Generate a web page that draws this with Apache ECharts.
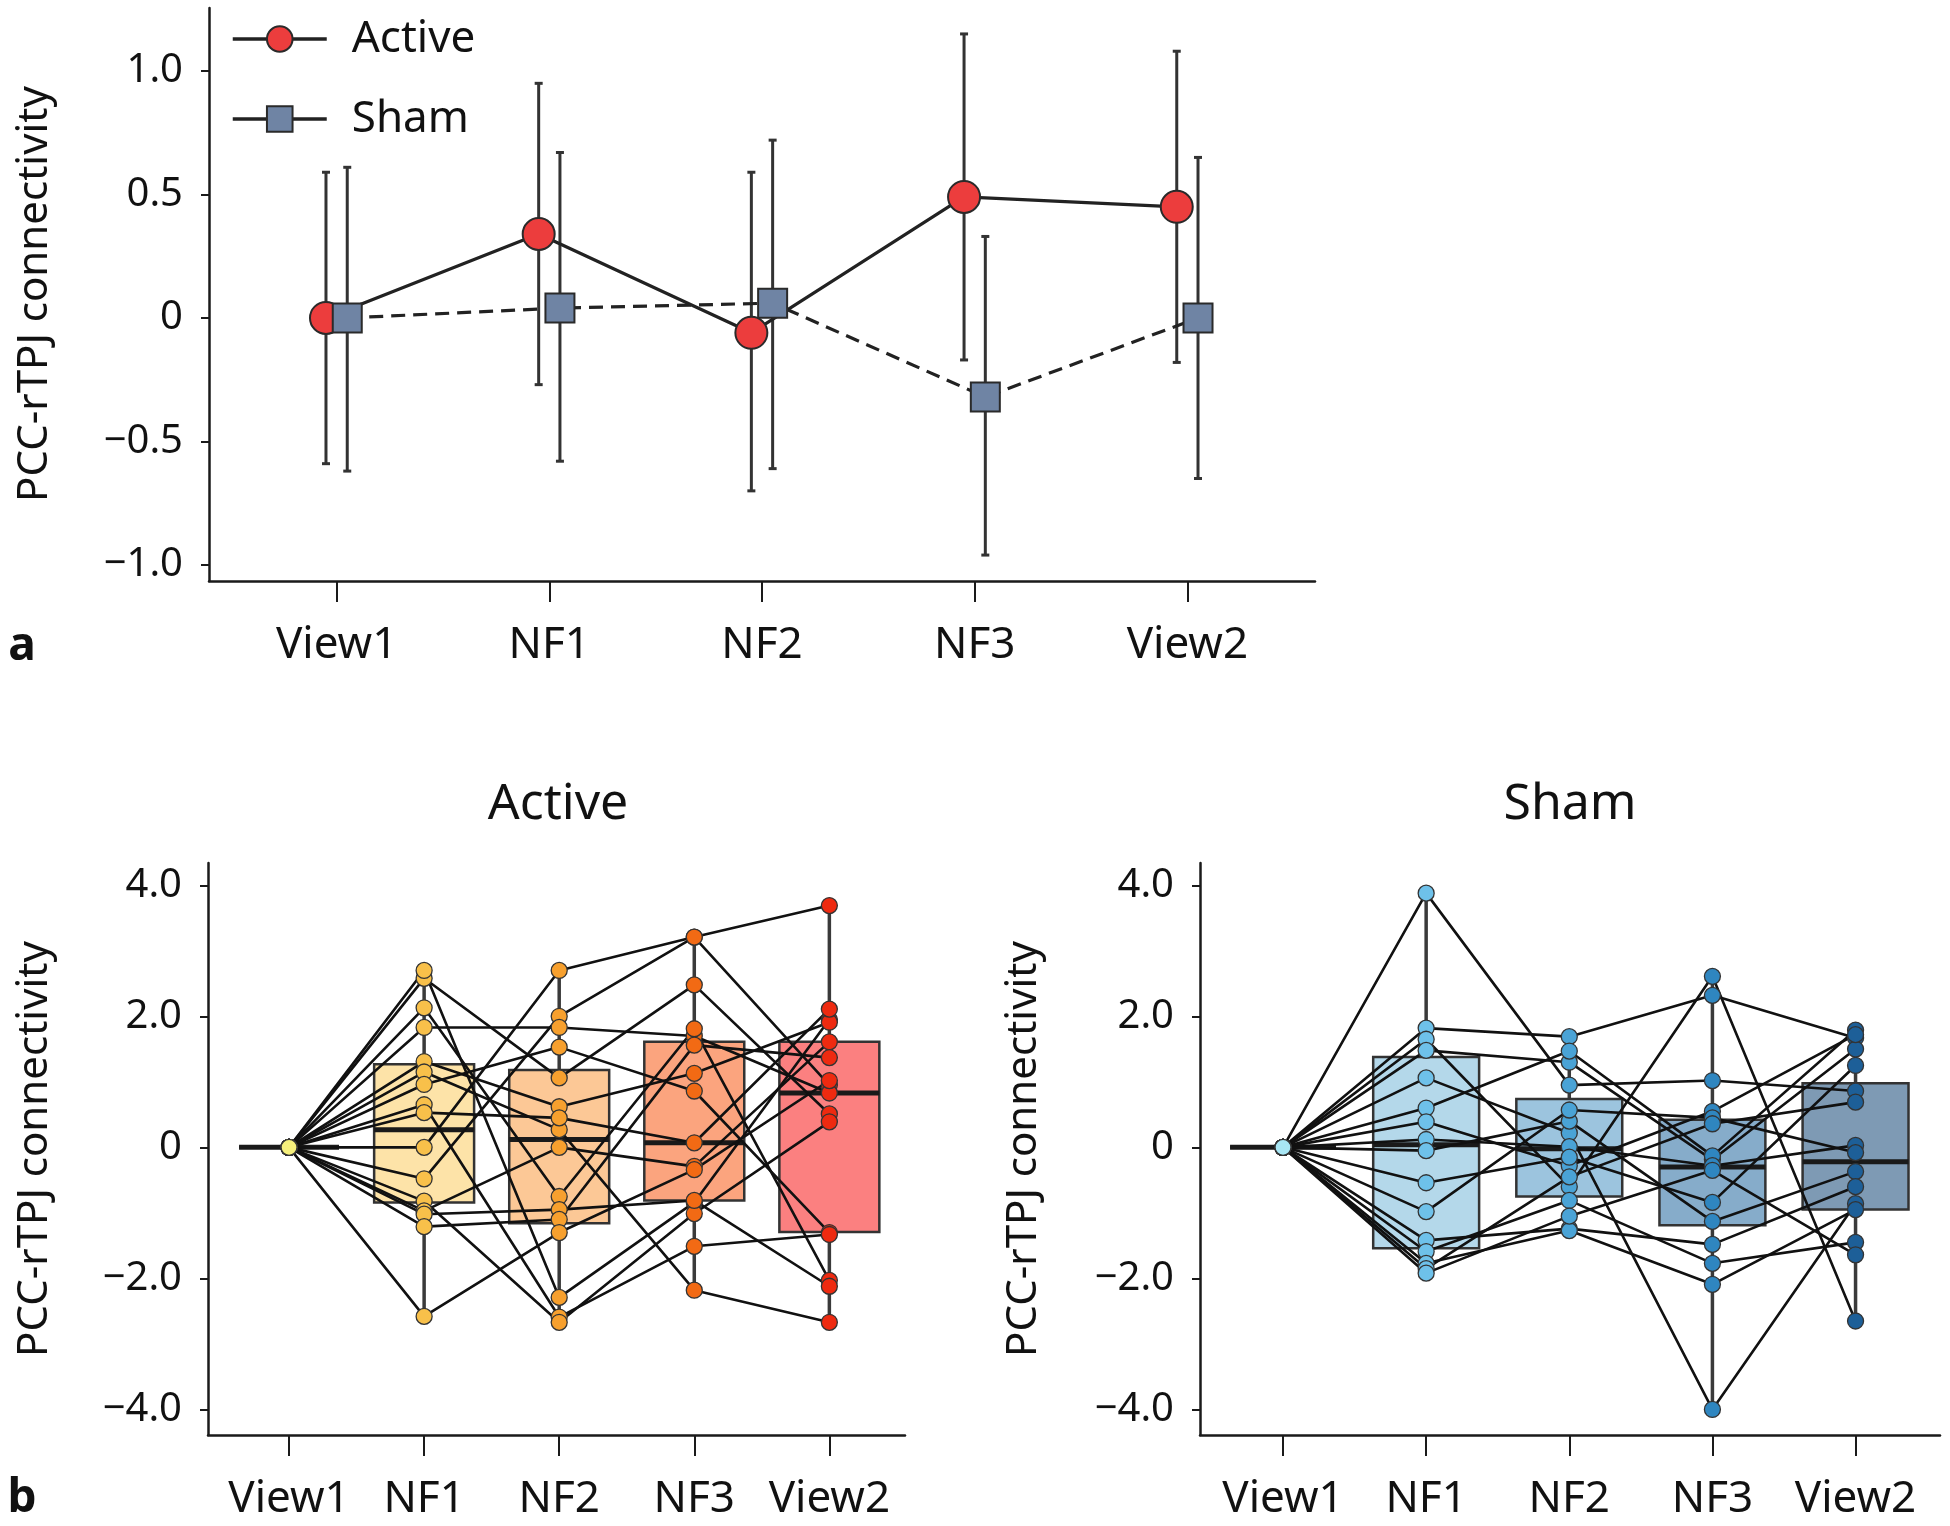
<!DOCTYPE html>
<html>
<head>
<meta charset="utf-8">
<script src="https://cdn.jsdelivr.net/npm/echarts@6/dist/echarts.min.js"></script>
<style>
* {margin: 0; padding: 0;}
#main {width: 1950px; height: 1526px; background: #fff;}
</style>
</head>
<body>
<div id="main"></div>
<script>
// 条件名
const CATS = ['View1', 'NF1', 'NF2', 'NF3', 'View2'];

// a: 组均值与误差线
const ACTIVE_MEAN = [0, 0.34, -0.06, 0.49, 0.45];
const ACTIVE_LOW = [-0.59, -0.27, -0.70, -0.17, -0.18];
const ACTIVE_HIGH = [0.59, 0.95, 0.59, 1.15, 1.08];
const SHAM_MEAN = [0, 0.04, 0.06, -0.32, 0];
const SHAM_LOW = [-0.62, -0.58, -0.61, -0.96, -0.65];
const SHAM_HIGH = [0.61, 0.67, 0.72, 0.33, 0.65];
const A_TICKS = [-1, -0.5, 0, 0.5, 1];

// b: 每个被试 [View1, NF1, NF2, NF3, View2]
const ACTIVE_SUBJECTS = [
    [0, 0.00, 2.70, 3.21, 3.69],
    [0, -0.48, 2.00, 3.21, 0.95],
    [0, 1.83, 1.83, 1.70, 0.83],
    [0, 2.58, 1.06, 2.48, 0.51],
    [0, 2.70, -2.29, -0.84, 1.95],
    [0, 2.13, -0.75, 1.81, -2.03],
    [0, 1.31, 0.62, 1.13, 1.91],
    [0, 1.15, 0.27, -2.18, -2.67],
    [0, 0.96, 1.53, 0.86, -1.30],
    [0, 0.65, -2.59, -1.51, -1.33],
    [0, 0.53, 0.45, 0.07, 2.11],
    [0, -0.82, -2.67, -1.01, 0.39],
    [0, -0.97, 0.00, -0.29, 1.61],
    [0, -1.02, -0.95, -0.81, -2.12],
    [0, -1.21, -1.10, 1.56, 1.37],
    [0, -2.58, -1.30, -0.34, 1.02]
];
const SHAM_SUBJECTS = [
    [0, 3.88, 0.95, 1.02, 0.86],
    [0, 1.82, 1.69, 2.32, 1.67],
    [0, 1.65, -0.60, 2.61, -2.65],
    [0, 1.48, 1.30, -0.19, 1.50],
    [0, 1.06, 0.22, -4.00, -0.86],
    [0, 0.60, 1.47, -0.13, 1.79],
    [0, 0.39, -0.28, 0.55, 1.72],
    [0, 0.12, 0.01, -0.28, 0.03],
    [0, -0.05, 0.40, -1.13, -0.37],
    [0, -0.54, -0.15, -0.84, 1.25],
    [0, -0.98, 0.57, 0.45, -0.08],
    [0, -1.42, -1.24, -1.48, -0.60],
    [0, -1.59, -0.81, -1.77, -1.45],
    [0, -1.77, -1.27, -2.09, -0.95],
    [0, -1.85, -0.45, 0.36, 0.69],
    [0, -1.92, -1.05, -0.35, -1.64]
];

// 箱线图 [min, Q1, median, Q3, max]
const ACTIVE_BOX = [
    [0, 0, 0, 0, 0],
    [-2.58, -0.84, 0.27, 1.27, 2.70],
    [-2.67, -1.16, 0.12, 1.18, 2.70],
    [-2.18, -0.81, 0.07, 1.61, 3.21],
    [-2.67, -1.29, 0.83, 1.61, 3.69]
];
const SHAM_BOX = [
    [0, 0, 0, 0, 0],
    [-1.92, -1.54, 0.04, 1.38, 3.88],
    [-1.27, -0.75, -0.02, 0.74, 1.69],
    [-4.00, -1.19, -0.30, 0.42, 2.61],
    [-2.65, -0.95, -0.22, 0.98, 1.79]
];
const B_TICKS = [-4, -2, 0, 2, 4];

const ACTIVE_BOX_COLORS = ['#fde3a8', '#fde3a8', '#fcc896', '#fba47e', '#fb8080'];
const ACTIVE_DOT_COLORS = ['#f6f07c', '#f8c04a', '#f7a02e', '#f26a14', '#ee2a10'];
const SHAM_BOX_COLORS = ['#b4d8ea', '#b4d8ea', '#9cc4de', '#86acca', '#7e9ab4'];
const SHAM_DOT_COLORS = ['#a8e6f4', '#6ec1ea', '#4aa3d6', '#2f86c0', '#1d5f98'];

const FONT = 'Noto Sans';
const AXIS_COLOR = '#1a1a1a';

function fmtTick(v) {
    if (v === 0) {
        return '0';
    }
    return (v < 0 ? '\u2212' : '') + Math.abs(v).toFixed(1);
}

function xAxis(gridIndex, min, max) {
    return {
        type: 'value', gridIndex, min, max,
        axisLine: {onZero: false, lineStyle: {color: AXIS_COLOR, width: 2.5}},
        axisTick: {customValues: [0, 1, 2, 3, 4], length: 21, lineStyle: {color: AXIS_COLOR, width: 2}},
        axisLabel: {
            customValues: [0, 1, 2, 3, 4],
            formatter: v => CATS[Math.round(v)],
            fontFamily: FONT, fontSize: 44, color: '#111', margin: 42
        },
        splitLine: {show: false}
    };
}

function yAxis(gridIndex, min, max, ticks) {
    return {
        type: 'value', gridIndex, min, max,
        axisLine: {show: true, onZero: false, lineStyle: {color: AXIS_COLOR, width: 2.5}},
        axisTick: {show: true, customValues: ticks, length: 8, lineStyle: {color: AXIS_COLOR, width: 2}},
        axisLabel: {
            customValues: ticks, formatter: fmtTick,
            fontFamily: FONT, fontSize: 40, color: '#111', margin: 26
        },
        splitLine: {show: false}
    };
}

function errorSeries(name, offset, low, high) {
    return {
        type: 'custom', name, xAxisIndex: 0, yAxisIndex: 0, z: 1, silent: true,
        data: CATS.map((c, i) => [i + offset, low[i], high[i]]),
        encode: {x: 0, y: [1, 2]},
        renderItem(params, api) {
            const x = api.value(0);
            const lo = api.coord([x, api.value(1)]);
            const hi = api.coord([x, api.value(2)]);
            const st = {stroke: '#333', lineWidth: 3};
            return {
                type: 'group',
                children: [
                    {type: 'line', shape: {x1: lo[0], y1: lo[1], x2: hi[0], y2: hi[1]}, style: st},
                    {type: 'line', shape: {x1: lo[0] - 4, y1: lo[1], x2: lo[0] + 4, y2: lo[1]}, style: st},
                    {type: 'line', shape: {x1: hi[0] - 4, y1: hi[1], x2: hi[0] + 4, y2: hi[1]}, style: st}
                ]
            };
        }
    };
}

function boxSeries(idx, box, colors) {
    return {
        type: 'custom', xAxisIndex: idx, yAxisIndex: idx, z: 1, silent: true,
        data: box.map((b, i) => [i].concat(b)),
        encode: {x: 0, y: [1, 5]},
        renderItem(params, api) {
            const x = api.value(0);
            const half = api.size([0.74, 0])[0] / 2;
            const pMin = api.coord([x, api.value(1)]);
            const pQ1 = api.coord([x, api.value(2)]);
            const pMed = api.coord([x, api.value(3)]);
            const pQ3 = api.coord([x, api.value(4)]);
            const pMax = api.coord([x, api.value(5)]);
            return {
                type: 'group',
                children: [
                    {
                        type: 'line',
                        shape: {x1: pMin[0], y1: pMin[1], x2: pMax[0], y2: pMax[1]},
                        style: {stroke: '#3a3a3a', lineWidth: 3.5}
                    },
                    {
                        type: 'rect',
                        shape: {x: pQ3[0] - half, y: pQ3[1], width: half * 2, height: pQ1[1] - pQ3[1]},
                        style: {fill: colors[params.dataIndex], stroke: '#333', lineWidth: 2.5}
                    },
                    {
                        type: 'line',
                        shape: {x1: pMed[0] - half, y1: pMed[1], x2: pMed[0] + half, y2: pMed[1]},
                        style: {stroke: '#1a1a1a', lineWidth: 5}
                    }
                ]
            };
        }
    };
}

function subjectSeries(idx, subjects) {
    return subjects.map(s => ({
        type: 'line', xAxisIndex: idx, yAxisIndex: idx, z: 3, silent: true,
        symbol: 'none',
        data: s.map((v, i) => [i, v]),
        lineStyle: {color: '#111', width: 2.6}
    }));
}

function dotSeries(idx, subjects, colors) {
    return CATS.map((c, i) => ({
        type: 'scatter', xAxisIndex: idx, yAxisIndex: idx, z: 4, silent: true,
        symbolSize: 16,
        data: subjects.map(s => [i, s[i]]),
        itemStyle: {color: colors[i], borderColor: '#333', borderWidth: 1.3, opacity: 1}
    }));
}

function rotText(text, x, y) {
    return {
        type: 'text', x, y, rotation: Math.PI / 2,
        style: {text, fontFamily: FONT, fontSize: 42, fill: '#111', align: 'center', verticalAlign: 'middle'}
    };
}

function plainText(text, x, y, size, bold) {
    return {
        type: 'text', x, y,
        style: {
            text, fontFamily: FONT, fontSize: size, fontWeight: bold ? 'bold' : 'normal',
            fill: '#111', align: 'center', verticalAlign: 'middle'
        }
    };
}

const chart = echarts.init(document.getElementById('main'), null, {renderer: 'canvas'});

chart.setOption({
    animation: false,
    backgroundColor: '#fff',
    grid: [
        {left: 209, top: 8, width: 1106, height: 573},
        {left: 208, top: 863, width: 697, height: 572},
        {left: 1200, top: 863, width: 740, height: 572}
    ],
    xAxis: [
        xAxis(0, -0.6, 4.6),
        xAxis(1, -0.6, 4.56),
        xAxis(2, -0.58, 4.59)
    ],
    yAxis: [
        yAxis(0, -1.065, 1.255, A_TICKS),
        yAxis(1, -4.39, 4.34, B_TICKS),
        yAxis(2, -4.39, 4.34, B_TICKS)
    ],
    legend: {
        orient: 'vertical', left: 226, top: 12,
        itemWidth: 94, itemHeight: 32, itemGap: 36,
        textStyle: {fontFamily: FONT, fontSize: 44, color: '#111', padding: [0, 0, 0, 20]},
        data: [
            {name: 'Active', lineStyle: {width: 3.5}},
            {name: 'Sham', lineStyle: {type: 'solid', width: 3.5}}
        ]
    },
    graphic: [
        rotText('PCC-rTPJ connectivity', 35, 294),
        rotText('PCC-rTPJ connectivity', 35, 1149),
        rotText('PCC-rTPJ connectivity', 1024, 1149),
        plainText('a', 22, 647, 46, true),
        plainText('b', 22, 1499, 46, true),
        plainText('Active', 558, 805, 50, false),
        plainText('Sham', 1570, 805, 50, false)
    ],
    series: [
        errorSeries('ActiveErr', -0.05, ACTIVE_LOW, ACTIVE_HIGH),
        errorSeries('ShamErr', 0.05, SHAM_LOW, SHAM_HIGH),
        {
            type: 'line', name: 'Active', xAxisIndex: 0, yAxisIndex: 0, z: 3,
            data: ACTIVE_MEAN.map((v, i) => [i - 0.05, v]),
            symbol: 'circle', symbolSize: 32,
            itemStyle: {color: '#ec3d3d', borderColor: '#2a2a2a', borderWidth: 2},
            lineStyle: {color: '#222', width: 3.2}
        },
        {
            type: 'line', name: 'Sham', xAxisIndex: 0, yAxisIndex: 0, z: 3,
            data: SHAM_MEAN.map((v, i) => [i + 0.05, v]),
            symbol: 'rect', symbolSize: 29,
            itemStyle: {color: '#6f84a4', borderColor: '#2a2a2a', borderWidth: 2},
            lineStyle: {color: '#222', width: 3.2, type: [14, 8]}
        },
        boxSeries(1, ACTIVE_BOX, ACTIVE_BOX_COLORS),
        boxSeries(2, SHAM_BOX, SHAM_BOX_COLORS)
    ]
        .concat(subjectSeries(1, ACTIVE_SUBJECTS))
        .concat(subjectSeries(2, SHAM_SUBJECTS))
        .concat(dotSeries(1, ACTIVE_SUBJECTS, ACTIVE_DOT_COLORS))
        .concat(dotSeries(2, SHAM_SUBJECTS, SHAM_DOT_COLORS))
});
</script>
</body>
</html>
